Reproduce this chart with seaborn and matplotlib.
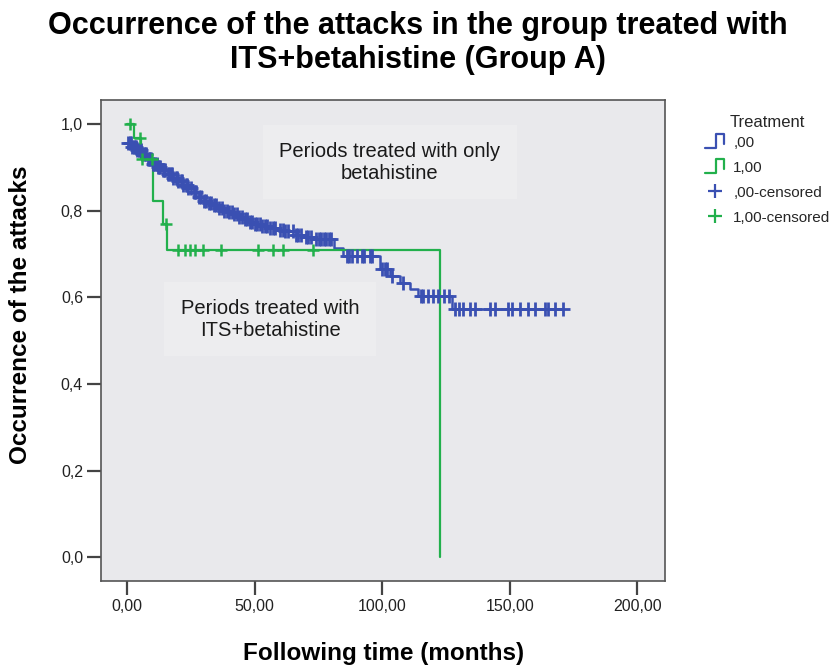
import matplotlib
matplotlib.use('Agg')
import matplotlib.pyplot as plt
import numpy as np
import seaborn as sns
from matplotlib.legend_handler import HandlerBase
from matplotlib.lines import Line2D
from matplotlib.ticker import FuncFormatter

# Kaplan-Meier estimates (time in months, survival)
blue_times = [0, 2, 4, 6, 8, 10, 12, 14, 16, 18, 20, 22, 24, 26, 28, 30, 32, 34,
              36, 38, 40, 42, 44, 46, 48, 50, 53, 56, 59, 62, 66, 70, 74, 81,
              84.7, 99, 103, 107, 111, 114, 127.5, 171]
blue_surv = [0.956, 0.948, 0.94, 0.93, 0.92, 0.908, 0.90, 0.893, 0.885, 0.876,
             0.868, 0.86, 0.852, 0.843, 0.832, 0.823, 0.817, 0.812, 0.806, 0.80,
             0.797, 0.792, 0.786, 0.78, 0.775, 0.769, 0.764, 0.76, 0.756, 0.752,
             0.745, 0.740, 0.734, 0.715, 0.695, 0.665, 0.65, 0.633, 0.62, 0.603,
             0.573, 0.573]
blue_censored = [0.5, 1, 1.5, 2, 2.5, 3, 3.5, 4, 4.5, 5, 5.5, 6, 6.5, 7, 7.5, 8,
                 8.5, 9, 9.5, 10, 10.5, 11, 11.5, 12, 12.5, 13, 14, 14.5, 15, 16,
                 16.5, 17, 17.5, 18, 19, 19.5, 20, 21, 21.5, 22, 23, 23.5, 24, 25,
                 26, 26.5, 27, 28, 29, 30, 31, 32, 33, 34, 35, 36, 37, 38, 39, 40,
                 41, 42, 43, 44, 45, 46, 47, 48, 49, 50, 51, 52, 53, 54, 55, 56,
                 57, 58, 60, 61, 62, 63, 65, 66, 67, 68, 70, 71, 72, 74, 75, 76,
                 77, 78, 79, 80, 86, 87, 88, 90, 92, 93, 95, 96, 100, 101, 102,
                 104, 108, 115, 116, 118, 120, 122, 124, 126, 128.6, 130.2,
                 131.8, 134.5, 136.5, 142.4, 144.3, 149.4, 150.9, 154.1, 157.3,
                 159.9, 163.9, 165.1, 167.8, 171]

green_times = [0, 2.5, 5.5, 10.2, 14.1, 15.8, 122.7, 122.7]
green_surv = [1.0, 0.968, 0.92, 0.822, 0.77, 0.709, 0.0, 0.0]
green_censored = [1.2, 5.1, 5.9, 9.8, 15.3, 20, 22.5, 24.7, 26.7, 29.8, 36.9,
                  51.4, 57.3, 61.2, 72.9]

x_ticks = [0, 50, 100, 150, 200]
y_ticks = [0.0, 0.2, 0.4, 0.6, 0.8, 1.0]

BLUE = '#3a50b2'
GREEN = '#22b04c'


def surv_at(times, surv, t):
    idx = np.searchsorted(times, t, side='right') - 1
    return np.asarray(surv)[idx]


class StepHandler(HandlerBase):
    """Draws the small step-shaped icon used in the SPSS legend."""

    def create_artists(self, legend, orig_handle, xdescent, ydescent,
                       width, height, fontsize, trans):
        xs = np.array([0.05, 0.55, 0.55, 0.95, 0.95]) * width - xdescent
        ys = np.array([-0.1, -0.1, 1.15, 1.15, 0.2]) * height - ydescent
        line = Line2D(xs, ys, color=orig_handle.get_color(), lw=1.6,
                      transform=trans)
        return [line]


sns.set_theme(style='ticks')
plt.rcParams['font.family'] = ['Liberation Sans', 'DejaVu Sans']

fig = plt.figure(figsize=(8.36, 6.68), dpi=100)
ax = fig.add_axes([0.121, 0.130, 0.675, 0.720])
ax.set_facecolor('#e9e9ec')

# survival curves
sns.lineplot(x=blue_times, y=blue_surv, drawstyle='steps-post', estimator=None,
             sort=False, color=BLUE, lw=1.8, ax=ax)
sns.lineplot(x=green_times, y=green_surv, drawstyle='steps-post', estimator=None,
             sort=False, color=GREEN, lw=1.6, ax=ax)

# censored marks
sns.scatterplot(x=blue_censored, y=surv_at(blue_times, blue_surv, blue_censored),
                marker='+', s=95, linewidth=2.0, color=BLUE, ax=ax, zorder=3)
sns.scatterplot(x=green_censored, y=surv_at(green_times, green_surv, green_censored),
                marker='+', s=80, linewidth=1.8, color=GREEN, ax=ax, zorder=4)

ax.set_xlim(-10.2, 211)
ax.set_ylim(-0.055, 1.055)
ax.set_xticks(x_ticks)
ax.set_yticks(y_ticks)
ax.xaxis.set_major_formatter(FuncFormatter(lambda v, p: f'{v:.2f}'.replace('.', ',')))
ax.yaxis.set_major_formatter(FuncFormatter(lambda v, p: f'{v:.1f}'.replace('.', ',')))
ax.tick_params(direction='out', length=10, width=1.6, color='#444444',
               labelsize=11.5, labelcolor='#222222', pad=3)
for side in ['left', 'right', 'top', 'bottom']:
    ax.spines[side].set_visible(True)
    ax.spines[side].set_color('#555555')
    ax.spines[side].set_linewidth(1.2)

ax.set_xlabel('Following time (months)', fontsize=17.5, fontweight='bold',
              labelpad=20, color='black')
ax.set_ylabel('Occurrence of the attacks', fontsize=17.5, fontweight='bold',
              color='black')
ax.yaxis.set_label_coords(-0.122, 0.553)

# annotations
box = dict(facecolor='#ededef', edgecolor='none', pad=12)
ax.text(103, 0.912, 'Periods treated with only\nbetahistine', ha='center', va='center',
        fontsize=14.5, color='#1a1a1a', linespacing=1.2, bbox=box)
ax.text(56, 0.55, 'Periods treated with\nITS+betahistine', ha='center', va='center',
        fontsize=14.5, color='#1a1a1a', linespacing=1.2, bbox=box)

fig.suptitle('Occurrence of the attacks in the group treated with\nITS+betahistine (Group A)',
             x=0.5, y=0.983, fontsize=22, fontweight='bold', linespacing=1.15,
             color='black')

handles = [Line2D([], [], color=BLUE), Line2D([], [], color=GREEN),
           Line2D([], [], color=BLUE, marker='+', ls='none', ms=10, mew=1.6),
           Line2D([], [], color=GREEN, marker='+', ls='none', ms=10, mew=1.6)]
labels = [',00', '1,00', ',00-censored', '1,00-censored']
leg = fig.legend(handles, labels, title='Treatment', loc='upper left',
                 bbox_to_anchor=(0.835, 0.837), frameon=False, fontsize=11,
                 title_fontsize=12, handlelength=1.4, handletextpad=0.5,
                 labelspacing=0.72, borderaxespad=0,
                 handler_map={handles[0]: StepHandler(), handles[1]: StepHandler()})
leg._legend_box.sep = 4
leg.get_title().set_ha('center')

fig.savefig('out.png', dpi=100)
